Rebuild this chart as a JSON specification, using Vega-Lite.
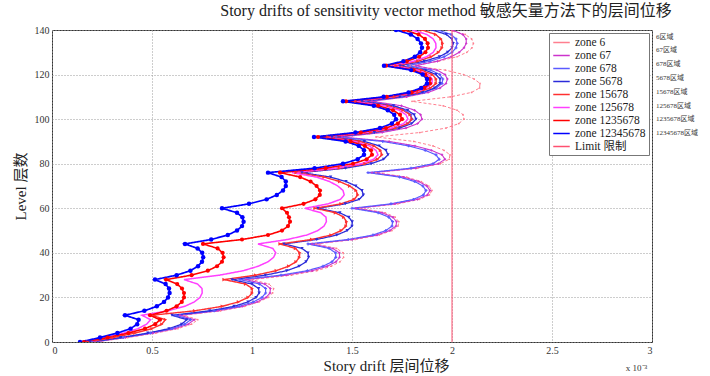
{
  "$schema": "https://vega.github.io/schema/vega-lite/v6.json",
  "width": 600,
  "height": 312,
  "autosize": {"type": "none"},
  "padding": {"left": 52, "top": 30, "right": 58, "bottom": 34},
  "background": "white",
  "title": {"text": "Story drifts of sensitivity vector method 敏感矢量方法下的层间位移", "font": "Liberation Serif, Noto Sans CJK SC", "fontSize": 16, "fontWeight": "normal", "color": "#222", "anchor": "middle", "dx": 94, "offset": 6},
  "datasets": {
    "names": [
      {"k": "z6", "zone": "zone 6"},
      {"k": "z67", "zone": "zone 67"},
      {"k": "z678", "zone": "zone 678"},
      {"k": "z5678", "zone": "zone 5678"},
      {"k": "z15678", "zone": "zone 15678"},
      {"k": "z125678", "zone": "zone 125678"},
      {"k": "z1235678", "zone": "zone 1235678"},
      {"k": "z12345678", "zone": "zone 12345678"}
    ],
    "drifts": [
      {"L":0,"z6":0.22,"z67":0.21,"z678":0.2,"z5678":0.19,"z15678":0.18,"z125678":0.17,"z1235678":0.16,"z12345678":0.14},
      {"L":2,"z6":0.379,"z67":0.367,"z678":0.356,"z5678":0.344,"z15678":0.305,"z125678":0.271,"z1235678":0.278,"z12345678":0.24},
      {"L":4,"z6":0.519,"z67":0.505,"z678":0.492,"z5678":0.479,"z15678":0.415,"z125678":0.359,"z1235678":0.382,"z12345678":0.327},
      {"L":6,"z6":0.63,"z67":0.615,"z678":0.6,"z5678":0.585,"z15678":0.5,"z125678":0.43,"z1235678":0.465,"z12345678":0.393},
      {"L":8,"z6":0.698,"z67":0.681,"z678":0.664,"z5678":0.648,"z15678":0.549,"z125678":0.473,"z1235678":0.516,"z12345678":0.426},
      {"L":10,"z6":0.729,"z67":0.711,"z678":0.693,"z5678":0.674,"z15678":0.567,"z125678":0.493,"z1235678":0.54,"z12345678":0.433},
      {"L":12,"z6":0.66,"z67":0.64,"z678":0.62,"z5678":0.6,"z15678":0.5,"z125678":0.45,"z1235678":0.49,"z12345678":0.365},
      {"L":14,"z6":0.843,"z67":0.83,"z678":0.811,"z5678":0.789,"z15678":0.713,"z125678":0.58,"z1235678":0.573,"z12345678":0.462},
      {"L":16,"z6":0.963,"z67":0.953,"z678":0.935,"z5678":0.91,"z15678":0.851,"z125678":0.664,"z1235678":0.623,"z12345678":0.524},
      {"L":18,"z6":1.035,"z67":1.026,"z678":1.007,"z5678":0.98,"z15678":0.932,"z125678":0.712,"z1235678":0.649,"z12345678":0.56},
      {"L":20,"z6":1.08,"z67":1.07,"z678":1.05,"z5678":1.02,"z15678":0.98,"z125678":0.74,"z1235678":0.66,"z12345678":0.58},
      {"L":22,"z6":1.103,"z67":1.09,"z678":1.068,"z5678":1.036,"z15678":1.001,"z125678":0.751,"z1235678":0.66,"z12345678":0.588},
      {"L":24,"z6":1.108,"z67":1.092,"z678":1.068,"z5678":1.033,"z15678":1.001,"z125678":0.75,"z1235678":0.65,"z12345678":0.585},
      {"L":26,"z6":1.085,"z67":1.064,"z678":1.038,"z5678":1.0,"z15678":0.968,"z125678":0.728,"z1235678":0.626,"z12345678":0.568},
      {"L":28,"z6":1.0,"z67":0.97,"z678":0.94,"z5678":0.9,"z15678":0.86,"z125678":0.66,"z1235678":0.57,"z12345678":0.515},
      {"L":30,"z6":1.197,"z67":1.171,"z678":1.145,"z5678":1.067,"z15678":1.018,"z125678":0.838,"z1235678":0.698,"z12345678":0.623},
      {"L":32,"z6":1.324,"z67":1.301,"z678":1.277,"z5678":1.174,"z15678":1.121,"z125678":0.957,"z1235678":0.779,"z12345678":0.692},
      {"L":34,"z6":1.397,"z67":1.376,"z678":1.355,"z5678":1.235,"z15678":1.183,"z125678":1.031,"z1235678":0.825,"z12345678":0.73},
      {"L":36,"z6":1.44,"z67":1.42,"z678":1.4,"z5678":1.27,"z15678":1.22,"z125678":1.08,"z1235678":0.85,"z12345678":0.75},
      {"L":38,"z6":1.458,"z67":1.438,"z678":1.419,"z5678":1.283,"z15678":1.237,"z125678":1.108,"z1235678":0.858,"z12345678":0.756},
      {"L":40,"z6":1.456,"z67":1.437,"z678":1.418,"z5678":1.28,"z15678":1.239,"z125678":1.119,"z1235678":0.853,"z12345678":0.751},
      {"L":42,"z6":1.423,"z67":1.404,"z678":1.385,"z5678":1.25,"z15678":1.217,"z125678":1.104,"z1235678":0.828,"z12345678":0.728},
      {"L":44,"z6":1.32,"z67":1.3,"z678":1.28,"z5678":1.16,"z15678":1.14,"z125678":1.03,"z1235678":0.755,"z12345678":0.665},
      {"L":46,"z6":1.516,"z67":1.501,"z678":1.481,"z5678":1.324,"z15678":1.298,"z125678":1.178,"z1235678":0.95,"z12345678":0.796},
      {"L":48,"z6":1.636,"z67":1.625,"z678":1.605,"z5678":1.424,"z15678":1.395,"z125678":1.274,"z1235678":1.08,"z12345678":0.879},
      {"L":50,"z6":1.7,"z67":1.689,"z678":1.669,"z5678":1.476,"z15678":1.446,"z125678":1.329,"z1235678":1.15,"z12345678":0.925},
      {"L":52,"z6":1.73,"z67":1.72,"z678":1.7,"z5678":1.5,"z15678":1.47,"z125678":1.36,"z1235678":1.18,"z12345678":0.95},
      {"L":54,"z6":1.734,"z67":1.723,"z678":1.703,"z5678":1.501,"z15678":1.473,"z125678":1.372,"z1235678":1.19,"z12345678":0.958},
      {"L":56,"z6":1.716,"z67":1.704,"z678":1.684,"z5678":1.484,"z15678":1.458,"z125678":1.37,"z1235678":1.185,"z12345678":0.952},
      {"L":58,"z6":1.666,"z67":1.651,"z678":1.631,"z5678":1.439,"z15678":1.417,"z125678":1.344,"z1235678":1.175,"z12345678":0.925},
      {"L":60,"z6":1.54,"z67":1.52,"z678":1.5,"z5678":1.33,"z15678":1.315,"z125678":1.265,"z1235678":1.15,"z12345678":0.85},
      {"L":62,"z6":1.729,"z67":1.715,"z678":1.695,"z5678":1.466,"z15678":1.445,"z125678":1.381,"z1235678":1.258,"z12345678":0.985},
      {"L":64,"z6":1.838,"z67":1.827,"z678":1.807,"z5678":1.536,"z15678":1.511,"z125678":1.442,"z1235678":1.317,"z12345678":1.073},
      {"L":66,"z6":1.887,"z67":1.877,"z678":1.857,"z5678":1.557,"z15678":1.529,"z125678":1.461,"z1235678":1.339,"z12345678":1.124},
      {"L":68,"z6":1.9,"z67":1.89,"z678":1.87,"z5678":1.55,"z15678":1.52,"z125678":1.455,"z1235678":1.34,"z12345678":1.155},
      {"L":70,"z6":1.884,"z67":1.874,"z678":1.854,"z5678":1.519,"z15678":1.488,"z125678":1.429,"z1235678":1.323,"z12345678":1.169},
      {"L":72,"z6":1.846,"z67":1.834,"z678":1.814,"z5678":1.47,"z15678":1.438,"z125678":1.388,"z1235678":1.293,"z12345678":1.169},
      {"L":74,"z6":1.773,"z67":1.758,"z678":1.738,"z5678":1.393,"z15678":1.361,"z125678":1.322,"z1235678":1.241,"z12345678":1.148},
      {"L":76,"z6":1.62,"z67":1.6,"z678":1.58,"z5678":1.25,"z15678":1.22,"z125678":1.2,"z1235678":1.14,"z12345678":1.08},
      {"L":78,"z6":1.827,"z67":1.819,"z678":1.795,"z5678":1.468,"z15678":1.436,"z125678":1.418,"z1235678":1.368,"z12345678":1.313},
      {"L":80,"z6":1.942,"z67":1.932,"z678":1.905,"z5678":1.596,"z15678":1.565,"z125678":1.546,"z1235678":1.505,"z12345678":1.455},
      {"L":82,"z6":1.986,"z67":1.965,"z678":1.936,"z5678":1.658,"z15678":1.627,"z125678":1.608,"z1235678":1.573,"z12345678":1.528},
      {"L":84,"z6":1.99,"z67":1.95,"z678":1.92,"z5678":1.68,"z15678":1.65,"z125678":1.63,"z1235678":1.6,"z12345678":1.56},
      {"L":86,"z6":1.96,"z67":1.897,"z678":1.866,"z5678":1.67,"z15678":1.642,"z125678":1.62,"z1235678":1.595,"z12345678":1.56},
      {"L":88,"z6":1.905,"z67":1.815,"z678":1.783,"z5678":1.636,"z15678":1.61,"z125678":1.586,"z1235678":1.564,"z12345678":1.534},
      {"L":90,"z6":1.809,"z67":1.686,"z678":1.654,"z5678":1.562,"z15678":1.539,"z125678":1.512,"z1235678":1.493,"z12345678":1.468},
      {"L":92,"z6":1.62,"z67":1.45,"z678":1.42,"z5678":1.4,"z15678":1.38,"z125678":1.35,"z1235678":1.33,"z12345678":1.31},
      {"L":94,"z6":1.839,"z67":1.651,"z678":1.61,"z5678":1.612,"z15678":1.594,"z125678":1.568,"z1235678":1.544,"z12345678":1.517},
      {"L":96,"z6":1.97,"z67":1.77,"z678":1.723,"z5678":1.738,"z15678":1.72,"z125678":1.696,"z1235678":1.67,"z12345678":1.64},
      {"L":98,"z6":2.034,"z67":1.828,"z678":1.778,"z5678":1.798,"z15678":1.779,"z125678":1.758,"z1235678":1.729,"z12345678":1.699},
      {"L":100,"z6":2.06,"z67":1.85,"z678":1.8,"z5678":1.82,"z15678":1.8,"z125678":1.78,"z1235678":1.75,"z12345678":1.72},
      {"L":102,"z6":2.055,"z67":1.843,"z678":1.794,"z5678":1.811,"z15678":1.79,"z125678":1.77,"z1235678":1.74,"z12345678":1.711},
      {"L":104,"z6":2.025,"z67":1.813,"z678":1.767,"z5678":1.778,"z15678":1.755,"z125678":1.736,"z1235678":1.705,"z12345678":1.679},
      {"L":106,"z6":1.956,"z67":1.747,"z678":1.707,"z5678":1.707,"z15678":1.681,"z125678":1.662,"z1235678":1.631,"z12345678":1.609},
      {"L":108,"z6":1.8,"z67":1.6,"z678":1.57,"z5678":1.55,"z15678":1.52,"z125678":1.5,"z1235678":1.47,"z12345678":1.455},
      {"L":110,"z6":1.992,"z67":1.773,"z678":1.75,"z5678":1.739,"z15678":1.713,"z125678":1.693,"z1235678":1.674,"z12345678":1.658},
      {"L":112,"z6":2.098,"z67":1.881,"z678":1.862,"z5678":1.854,"z15678":1.831,"z125678":1.811,"z1235678":1.798,"z12345678":1.783},
      {"L":114,"z6":2.138,"z67":1.94,"z678":1.921,"z5678":1.913,"z15678":1.892,"z125678":1.872,"z1235678":1.862,"z12345678":1.846},
      {"L":116,"z6":2.14,"z67":1.97,"z678":1.95,"z5678":1.94,"z15678":1.92,"z125678":1.9,"z1235678":1.89,"z12345678":1.875},
      {"L":118,"z6":2.111,"z67":1.977,"z678":1.954,"z5678":1.94,"z15678":1.921,"z125678":1.901,"z1235678":1.889,"z12345678":1.875},
      {"L":120,"z6":2.058,"z67":1.965,"z678":1.939,"z5678":1.92,"z15678":1.901,"z125678":1.881,"z1235678":1.866,"z12345678":1.853},
      {"L":122,"z6":1.967,"z67":1.925,"z678":1.894,"z5678":1.867,"z15678":1.848,"z125678":1.828,"z1235678":1.808,"z12345678":1.796},
      {"L":124,"z6":1.79,"z67":1.82,"z678":1.78,"z5678":1.74,"z15678":1.72,"z125678":1.7,"z1235678":1.67,"z12345678":1.66},
      {"L":126,"z6":1.934,"z67":1.927,"z678":1.891,"z5678":1.861,"z15678":1.829,"z125678":1.808,"z1235678":1.774,"z12345678":1.757},
      {"L":128,"z6":2.025,"z67":1.996,"z678":1.961,"z5678":1.937,"z15678":1.896,"z125678":1.873,"z1235678":1.836,"z12345678":1.814},
      {"L":130,"z6":2.074,"z67":2.036,"z678":2.0,"z5678":1.978,"z15678":1.932,"z125678":1.906,"z1235678":1.867,"z12345678":1.841},
      {"L":132,"z6":2.1,"z67":2.06,"z678":2.02,"z5678":2.0,"z15678":1.95,"z125678":1.92,"z1235678":1.88,"z12345678":1.85},
      {"L":134,"z6":2.107,"z67":2.071,"z678":2.026,"z5678":2.006,"z15678":1.953,"z125678":1.919,"z1235678":1.878,"z12345678":1.845},
      {"L":136,"z6":2.098,"z67":2.071,"z678":2.02,"z5678":1.999,"z15678":1.945,"z125678":1.906,"z1235678":1.865,"z12345678":1.828},
      {"L":138,"z6":2.066,"z67":2.054,"z678":1.995,"z5678":1.972,"z15678":1.918,"z125678":1.874,"z1235678":1.833,"z12345678":1.794},
      {"L":140,"z6":1.98,"z67":2.0,"z678":1.93,"z5678":1.9,"z15678":1.85,"z125678":1.8,"z1235678":1.76,"z12345678":1.72}
    ]
  },
  "layer": [
    {
      "data": {"name": "drifts"},
      "transform": [
        {"fold": ["z6","z67","z678","z5678","z15678","z125678","z1235678","z12345678"], "as": ["k","drift"]},
        {"lookup": "k", "from": {"data": {"name": "names"}, "key": "k", "fields": ["zone"]}}
      ],
      "mark": {"type": "line", "clip": true},
      "encoding": {
        "x": {"field": "drift", "type": "quantitative", "scale": {"domain": [0, 3], "nice": false, "zero": false},
              "axis": {"title": "Story drift 层间位移", "values": [0, 0.5, 1, 1.5, 2, 2.5, 3], "format": "~g", "titleX": 334}},
        "y": {"field": "L", "type": "quantitative", "scale": {"domain": [0, 140], "nice": false},
              "axis": {"title": "Level 层数", "values": [0, 20, 40, 60, 80, 100, 120, 140]}},
        "order": {"field": "L", "type": "quantitative"},
        "color": {"field": "zone", "type": "nominal",
                  "scale": {"domain": ["zone 6","zone 67","zone 678","zone 5678","zone 15678","zone 125678","zone 1235678","zone 12345678","Limit 限制"],
                            "range": ["#ff7f8f","#cc33cc","#5a5aff","#2b2bd9","#ff3030","#ff40ff","#ff0000","#0000ff","#ff5070"]},
                  "legend": {"title": null, "orient": "top-right", "offset": 3, "symbolType": "M-1.5,0H1.5", "symbolSize": 121, "symbolStrokeWidth": 1.5, "symbolOffset": 3,
                             "labelFont": "Liberation Serif, Noto Sans CJK SC", "labelFontSize": 11.5, "labelColor": "#222",
                             "strokeColor": "#777", "fillColor": "white", "padding": 3, "rowPadding": 1, "labelOffset": 7, "labelLimit": 200}},
        "strokeDash": {"field": "zone", "type": "nominal",
                       "scale": {"domain": ["zone 6","zone 67","zone 678","zone 5678","zone 15678","zone 125678","zone 1235678","zone 12345678"],
                                 "range": [[3,2],[1,0],[1,0],[1,0],[1,0],[1,0],[1,0],[1,0]]}, "legend": null},
        "size": {"field": "zone", "type": "nominal",
                 "scale": {"domain": ["zone 6","zone 67","zone 678","zone 5678","zone 15678","zone 125678","zone 1235678","zone 12345678"], "range": [1, 1.7]}, "legend": null},
        "opacity": {"field": "k", "type": "nominal",
                    "scale": {"domain": ["z6","z67","z678","z5678","z15678","z125678","z1235678","z12345678"], "range": [1, 1]},
                    "legend": {"title": null, "orient": "none", "legendX": 597, "legendY": 3, "padding": 0, "symbolSize": 1, "symbolType": "circle",
                               "symbolFillColor": "rgba(0,0,0,0)", "symbolStrokeColor": "rgba(0,0,0,0)", "symbolStrokeWidth": 0, "labelOffset": 0,
                               "labelFont": "Liberation Serif, Noto Sans CJK SC", "labelFontSize": 7, "labelColor": "#333", "rowPadding": 5.8,
                               "labelExpr": "replace(datum.label, 'z', '') + '区域'"}}
      }
    },
    {
      "data": {"name": "drifts"},
      "transform": [
        {"fold": ["z6","z67","z678","z5678","z15678","z125678","z1235678","z12345678"], "as": ["k","drift"]},
        {"lookup": "k", "from": {"data": {"name": "names"}, "key": "k", "fields": ["zone"]}},
        {"filter": "datum.zone !== 'zone 125678'"}
      ],
      "mark": {"type": "point", "filled": true, "clip": true, "strokeWidth": 0, "opacity": 1},
      "encoding": {
        "x": {"field": "drift", "type": "quantitative", "axis": null},
        "y": {"field": "L", "type": "quantitative"},
        "fill": {"field": "zone", "type": "nominal",
                 "scale": {"domain": ["zone 6","zone 67","zone 678","zone 5678","zone 15678","zone 1235678","zone 12345678"],
                           "range": ["#ff7f8f","#cc33cc","#5a5aff","#2b2bd9","#ff3030","#ff0000","#0000ff"]}, "legend": null},
        "shape": {"field": "zone", "type": "nominal",
                  "scale": {"domain": ["zone 6","zone 67","zone 678","zone 5678","zone 15678","zone 1235678","zone 12345678"],
                            "range": ["circle","cross","cross","triangle-down","triangle-right","circle","circle"]}, "legend": null},
        "size": {"field": "zone", "type": "nominal",
                 "scale": {"domain": ["zone 6","zone 67","zone 678","zone 5678","zone 15678","zone 1235678","zone 12345678"], "range": [3, 20]}, "legend": null}
      }
    },
    {
      "data": {"values": [{"zone": "Limit 限制", "L": 0, "drift": 2}, {"zone": "Limit 限制", "L": 140, "drift": 2}]},
      "mark": {"type": "line", "strokeWidth": 1},
      "encoding": {
        "x": {"field": "drift", "type": "quantitative",
              "axis": {"orient": "bottom", "title": "x 10⁻³", "labels": false, "ticks": false, "domain": false, "grid": false, "titleX": 584, "titleY": 25,
                       "titleFontSize": 9, "titleFont": "Liberation Serif", "titleFontWeight": "normal", "titleAlign": "center", "titleBaseline": "middle", "titleColor": "#333"}},
        "y": {"field": "L", "type": "quantitative"},
        "color": {"field": "zone", "type": "nominal",
                  "scale": {"domain": ["zone 6","zone 67","zone 678","zone 5678","zone 15678","zone 125678","zone 1235678","zone 12345678","Limit 限制"],
                            "range": ["#ff7f8f","#cc33cc","#5a5aff","#2b2bd9","#ff3030","#ff40ff","#ff0000","#0000ff","#ff5070"]}}
      }
    }
  ],
  "resolve": {"scale": {"size": "independent"}, "axis": {"x": "independent"}},
  "config": {
    "view": {"stroke": "#333", "strokeWidth": 1},
    "axis": {"labelFont": "Liberation Serif", "labelFontSize": 10, "labelColor": "#333",
             "titleFont": "Liberation Serif, Noto Sans CJK SC", "titleFontSize": 15, "titleFontWeight": "normal", "titleColor": "#222",
             "gridColor": "#9a9a9a", "gridDash": [1, 2], "tickSize": 0, "domain": false, "labelPadding": 3},
    "axisX": {"titlePadding": 3},
    "axisY": {"titlePadding": 6}
  }
}
